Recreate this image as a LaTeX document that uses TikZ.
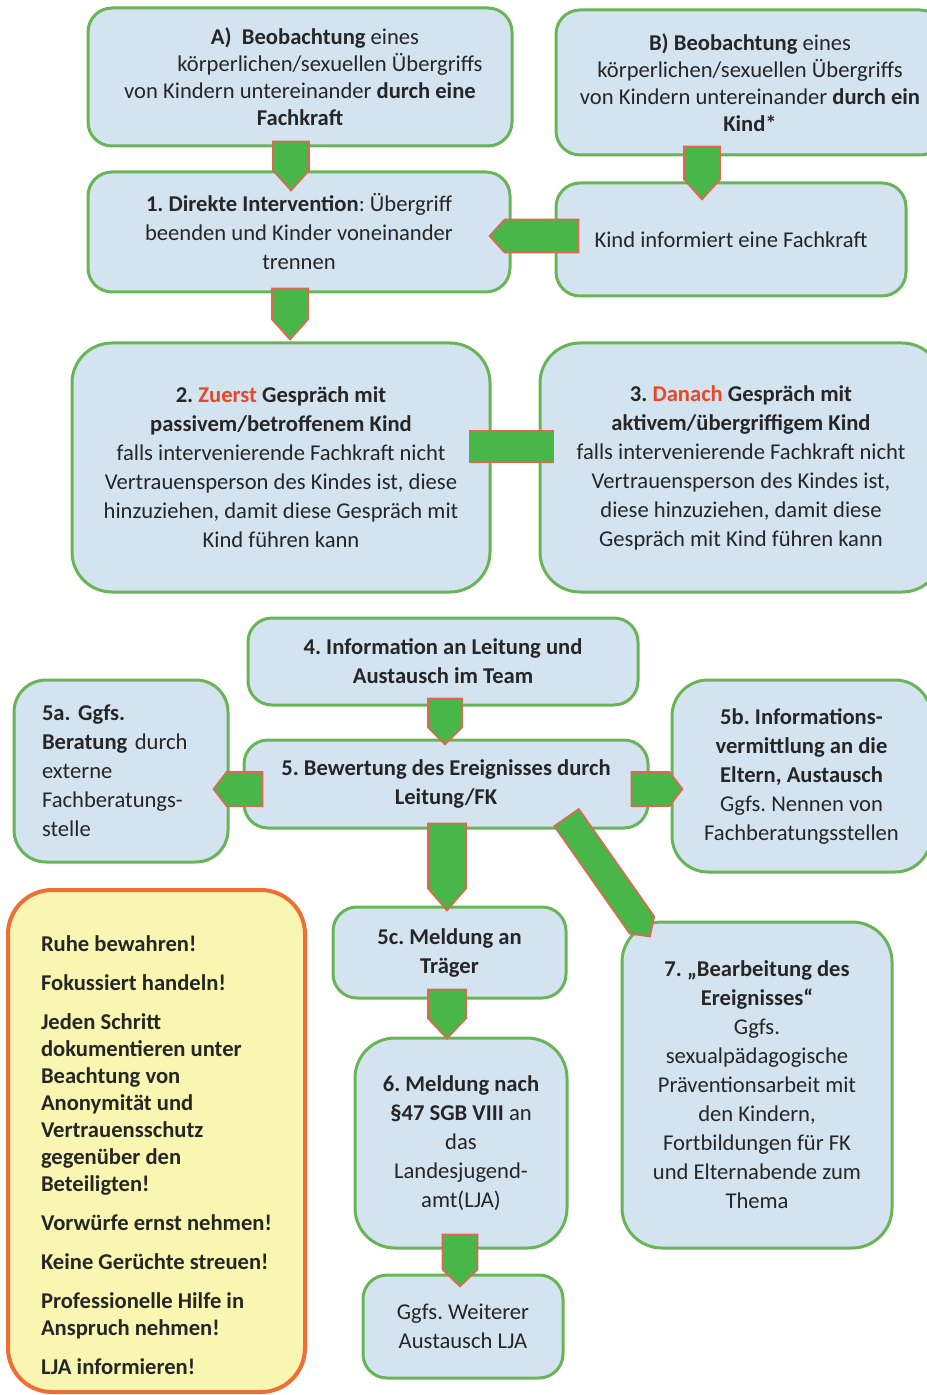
\documentclass[tikz,border=0pt]{standalone}
\usepackage{fontspec}
\setmainfont{Carlito}
\usetikzlibrary{calc}
\frenchspacing

\definecolor{boxfill}{RGB}{211,227,240}
\definecolor{boxline}{RGB}{104,180,86}
\definecolor{arrowfill}{RGB}{72,182,72}
\definecolor{arrowline}{RGB}{228,100,80}
\definecolor{notefill}{RGB}{249,246,178}
\definecolor{noteline}{RGB}{238,110,52}
\definecolor{alertred}{RGB}{232,72,40}
\definecolor{textdark}{RGB}{38,38,38}

% fat block arrow: half width, head length, tail, tip
\newcommand{\fatarrow}[4]{%
  \path #3 coordinate (fa-s) #4 coordinate (fa-e);
  \coordinate (fa-h) at ($(fa-e)!#2!(fa-s)$);
  \filldraw[blockarrow] ($(fa-s)!#1!90:(fa-e)$) -- ($(fa-h)!#1!-90:(fa-s)$) -- (fa-e)
    -- ($(fa-h)!#1!90:(fa-s)$) -- ($(fa-s)!#1!-90:(fa-e)$) -- cycle;}

\begin{document}
\begin{tikzpicture}[
        x=0.5pt, y=-0.5pt,
        box/.style={draw=boxline, fill=boxfill, line width=1.5pt, rounded corners=12pt,
            align=center, inner sep=0pt, text=textdark, font=\fontsize{11.3}{14.5}\selectfont},
        bigbox/.style={box, rounded corners=20pt},
        notebox/.style={draw=noteline, fill=notefill, line width=2pt, rounded corners=22pt,
            align=left, inner sep=0pt, text=textdark, font=\bfseries\fontsize{11.3}{13.5}\selectfont},
        blockarrow/.style={fill=arrowfill, draw=arrowline, line width=0.8pt, line join=miter}
    ]
        \useasboundingbox (0,0) rectangle (926,1395);

        % Observation and intervention
        \node[box, minimum width=212pt, minimum height=69pt, font=\fontsize{11.3}{13.5}\selectfont] (boxA) at (300,77)
            {\hspace*{15pt}\textbf{A)\ \ Beobachtung} eines\\ \hspace*{30pt}körperlichen/sexuellen Übergriffs\\
             von Kindern untereinander \textbf{durch eine}\\ \textbf{Fachkraft}};
        \node[box, minimum width=194pt, minimum height=72.5pt, font=\fontsize{11.3}{13.5}\selectfont] (boxB) at (750,82.5)
            {\textbf{B) Beobachtung} eines\\ körperlichen/sexuellen Übergriffs\\
             von Kindern untereinander \textbf{durch ein}\\ \textbf{Kind*}};
        \node[box, minimum width=211pt, minimum height=60pt] (interv) at (299,232)
            {\textbf{1. Direkte Intervention}: Übergriff\\ beenden und Kinder voneinander\\ trennen};
        \node[box, minimum width=175pt, minimum height=56.5pt] (kindinf) at (731,239.5)
            {Kind informiert eine Fachkraft};

        % Talks
        \node[bigbox, minimum width=209pt, minimum height=124.5pt] (talkpass) at (281,467.5)
            {\textbf{2. \textcolor{alertred}{Zuerst} Gespräch mit}\\ \textbf{passivem/betroffenem Kind}\\
             falls intervenierende Fachkraft nicht\\ Vertrauensperson des Kindes ist, diese\\
             hinzuziehen, damit diese Gespräch mit\\ Kind führen kann};
        \node[bigbox, minimum width=201pt, minimum height=124.5pt] (talkakt) at (741,467.5)
            {\textbf{3. \textcolor{alertred}{Danach} Gespräch mit}\\ \textbf{aktivem/übergriffigem Kind}\\
             falls intervenierende Fachkraft nicht\\ Vertrauensperson des Kindes ist,\\
             diese hinzuziehen, damit diese\\ Gespräch mit Kind führen kann};

        % Management and assessment
        \node[box, minimum width=195pt, minimum height=43.5pt] (info) at (443,661.5)
            {\textbf{4. Information an Leitung und}\\ \textbf{Austausch im Team}};
        \node[box, minimum width=202pt, minimum height=44pt] (bewert) at (446,784)
            {\textbf{5. Bewertung des Ereignisses durch}\\ \textbf{Leitung/FK}};
        \node[box, rounded corners=16pt, minimum width=107pt, minimum height=91pt, align=left, text width=79pt] (beratung) at (121,771)
            {\textbf{5a. Ggfs.}\\ \textbf{Beratung} durch\\ externe\\ Fachberatungs-\\ stelle};
        \node[box, rounded corners=18pt, minimum width=129.5pt, minimum height=96pt] (eltern) at (801.5,776)
            {\textbf{5b. Informations-}\\ \textbf{vermittlung an die}\\ \textbf{Eltern, Austausch}\\
             Ggfs. Nennen von\\ Fachberatungsstellen};

        % Reports and follow-up
        \node[box, minimum width=116.5pt, minimum height=45.5pt] (traeger) at (449.5,952.5)
            {\textbf{5c. Meldung an}\\ \textbf{Träger}};
        \node[bigbox, minimum width=106pt, minimum height=105pt] (ljameld) at (461,1143)
            {\textbf{6. Meldung nach}\\ \textbf{§47 SGB VIII} an\\ das\\ Landesjugend-\\ amt(LJA)};
        \node[bigbox, minimum width=135pt, minimum height=163pt] (nachbear) at (757,1085)
            {\textbf{7. „Bearbeitung des}\\ \textbf{Ereignisses“}\\ Ggfs.\\ sexualpädagogische\\
             Präventionsarbeit mit\\ den Kindern,\\ Fortbildungen für FK\\ und Elternabende zum\\ Thema};
        \node[box, minimum width=100pt, minimum height=51.5pt] (austausch) at (463,1326.5)
            {Ggfs. Weiterer\\ Austausch LJA};

        % Rules of conduct
        \node[notebox, minimum width=148.5pt, minimum height=251pt] (rules) at (156.5,1141)
            {\rule{0pt}{22pt}Ruhe bewahren!\\[6pt] Fokussiert handeln!\\[6pt] Jeden Schritt\\ dokumentieren unter\\
             Beachtung von\\ Anonymität und\\ Vertrauensschutz\\ gegenüber den\\ Beteiligten!\\[6pt]
             Vorwürfe ernst nehmen!\\[6pt] Keine Gerüchte streuen!\\[6pt] Professionelle Hilfe in\\
             Anspruch nehmen!\\[6pt] LJA informieren!};

        % Block arrows
        \fatarrow{9pt}{10pt}{($(boxA.south)+(-9,-6)$)}{($(interv.north)+(-8,20)$)}
        \fatarrow{9pt}{10pt}{($(interv.south)+(-9,-5)$)}{($(talkpass.north)+(9,-2)$)}
        \fatarrow{9pt}{10pt}{($(boxB.south)+(-48,-10)$)}{($(kindinf.north)+(-29,18)$)}
        \fatarrow{8.25pt}{7.5pt}{($(kindinf.west)+(24,-3.5)$)}{($(interv.east)+(-22,4)$)}
        \fatarrow{7.75pt}{0pt}{($(talkpass.east)+(-22,-21)$)}{($(talkakt.west)+(15,-21)$)}
        \fatarrow{8.5pt}{8.5pt}{($(info.south)+(2,-8)$)}{($(bewert.north)+(-1,6)$)}
        \fatarrow{8.5pt}{6.5pt}{($(bewert.west)+(20,5)$)}{($(beratung.east)+(-16,18)$)}
        \fatarrow{8.5pt}{6.5pt}{($(bewert.east)+(-18,5)$)}{($(eltern.west)+(12,13)$)}
        \fatarrow{9.5pt}{11pt}{($(bewert.south)+(1,-6)$)}{($(traeger.north)+(-2.5,5)$)}
        \fatarrow{7.5pt}{7pt}{($(bewert.south east)+(-83,-12)$)}{($(nachbear.north)+(-107,16)$)}
        \fatarrow{9.5pt}{10pt}{($(traeger.south)+(-2.5,-10)$)}{($(ljameld.north)+(-14,2)$)}
        \fatarrow{8.75pt}{8.5pt}{($(ljameld.south)+(-1,-15)$)}{($(austausch.north)+(-3,13)$)}
    \end{tikzpicture}
\end{document}
